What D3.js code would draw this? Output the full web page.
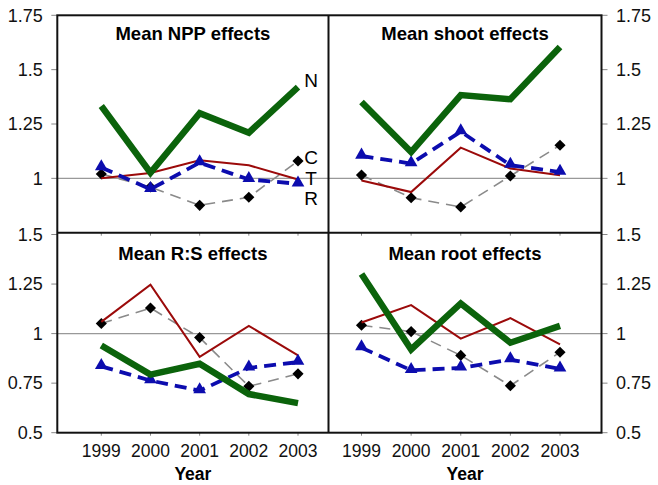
<!DOCTYPE html>
<html>
<head>
<meta charset="utf-8">
<script src="https://cdn.jsdelivr.net/npm/d3@7"></script>
<style>
  body { margin: 0; background: #fff; }
  svg { display: block; font-family: "Liberation Sans", Arial, sans-serif; }
</style>
</head>
<body>
<div id="chart"></div>
<script>
// data
const years = ["1999", "2000", "2001", "2002", "2003"];

const nppN = [1.333, 1.026, 1.300, 1.210, 1.420];
const nppC = [1.020, 0.960, 0.876, 0.913, 1.080];
const nppT = [1.000, 1.025, 1.083, 1.060, 0.995];
const nppR = [1.050, 0.950, 1.072, 0.995, 0.975];

const shootN = [1.351, 1.121, 1.383, 1.364, 1.604];
const shootC = [1.015, 0.911, 0.868, 1.011, 1.152];
const shootT = [0.990, 0.937, 1.141, 1.045, 1.014];
const shootR = [1.103, 1.068, 1.215, 1.061, 1.029];

const rsN = [0.940, 0.793, 0.848, 0.695, 0.649];
const rsC = [1.051, 1.129, 0.980, 0.734, 0.797];
const rsT = [1.059, 1.247, 0.883, 1.039, 0.890];
const rsR = [0.835, 0.763, 0.712, 0.827, 0.856];

const rootN = [1.301, 0.920, 1.152, 0.954, 1.039];
const rootC = [1.042, 1.010, 0.890, 0.737, 0.906];
const rootT = [1.056, 1.144, 0.975, 1.078, 0.946];
const rootR = [0.929, 0.815, 0.827, 0.869, 0.822];

const topTicks = [1, 1.25, 1.5, 1.75];
const bottomTicks = [0.5, 0.75, 1, 1.25, 1.5];
const seriesLabels = ["N", "C", "T", "R"];

const width = 658, height = 485;
const plotLeft = 57.3, plotMid = 328.5, plotRight = 601.5;
const plotTop = 15.3, plotMidY = 232.7, plotBottom = 432.7;

const green = "#0b630b", red = "#9b0a0a", blue = "#0c0cae", grey = "#8a8a8a";

let panels = [
  {title: "Mean NPP effects", x0: plotLeft, x1: plotMid, row: 0, side: "left",
   N: nppN, C: nppC, T: nppT, R: nppR},
  {title: "Mean shoot effects", x0: plotMid, x1: plotRight, row: 0, side: "right",
   N: shootN, C: shootC, T: shootT, R: shootR},
  {title: "Mean R:S effects", x0: plotLeft, x1: plotMid, row: 1, side: "left",
   N: rsN, C: rsC, T: rsT, R: rsR},
  {title: "Mean root effects", x0: plotMid, x1: plotRight, row: 1, side: "right",
   N: rootN, C: rootC, T: rootT, R: rootR}
];

let svg = d3.select("#chart").append("svg")
    .attr("width", width)
    .attr("height", height);

panels.forEach(function(p) {
    let y = p.row == 0
        ? d3.scaleLinear().domain([0.75, 1.75]).range([plotMidY, plotTop])
        : d3.scaleLinear().domain([0.5, 1.5]).range([plotBottom, 234.5]);
    let x = p.side == "left"
        ? d3.scalePoint().domain(years).range([p.x0 + 44, p.x1 - 30.5])
        : d3.scalePoint().domain(years).range([p.x0 + 33, p.x1 - 41.5]);
    let yBottom = p.row == 0 ? plotMidY : plotBottom;

    let g = svg.append("g");

    // reference line at 1
    g.append("line")
        .attr("x1", p.x0).attr("x2", p.x1)
        .attr("y1", y(1)).attr("y2", y(1))
        .attr("stroke", "#999").attr("stroke-width", 1.2);

    // category ticks
    g.selectAll(".xtick")
        .data(years)
        .enter()
        .append("line")
        .attr("x1", function(d) { return x(d); })
        .attr("x2", function(d) { return x(d); })
        .attr("y1", yBottom).attr("y2", yBottom + 3)
        .attr("stroke", "#888").attr("stroke-width", 1);

    let line = d3.line()
        .x(function(d, i) { return x(years[i]); })
        .y(function(d) { return y(d); });

    // C : grey dashed with diamonds
    g.append("path")
        .attr("d", line(p.C))
        .attr("fill", "none")
        .attr("stroke", grey)
        .attr("stroke-width", 1.6)
        .attr("stroke-dasharray", "11,7");
    g.selectAll(".dia")
        .data(p.C)
        .enter()
        .append("path")
        .attr("d", d3.symbol().type(d3.symbolSquare).size(62))
        .attr("transform", function(d, i) { return "translate(" + x(years[i]) + "," + y(d) + ") rotate(45)"; })
        .attr("fill", "#000");

    // T : thin red
    g.append("path")
        .attr("d", line(p.T))
        .attr("fill", "none")
        .attr("stroke", red)
        .attr("stroke-width", 2);

    // R : blue dashed with triangles
    g.append("path")
        .attr("d", line(p.R))
        .attr("fill", "none")
        .attr("stroke", blue)
        .attr("stroke-width", 3.8)
        .attr("stroke-dasharray", "12,7");
    g.selectAll(".tri")
        .data(p.R)
        .enter()
        .append("path")
        .attr("d", d3.symbol().type(d3.symbolTriangle).size(70))
        .attr("transform", function(d, i) { return "translate(" + x(years[i]) + "," + (y(d) - 1) + ")"; })
        .attr("fill", blue);

    // N : thick green
    g.append("path")
        .attr("d", line(p.N))
        .attr("fill", "none")
        .attr("stroke", green)
        .attr("stroke-width", 6.5);

    // title
    g.append("text")
        .attr("x", (p.x0 + p.x1) / 2)
        .attr("y", (p.row == 0 ? plotTop : 234.5) + 25)
        .attr("text-anchor", "middle")
        .attr("font-size", "18.5px")
        .attr("font-weight", "bold")
        .text(p.title);

    // value axis on the outer side
    let ticks = p.row == 0 ? topTicks : bottomTicks;
    let ax = p.side == "left" ? p.x0 : p.x1;
    let dir = p.side == "left" ? -1 : 1;
    g.selectAll(".ytick")
        .data(ticks)
        .enter()
        .append("line")
        .attr("x1", ax).attr("x2", ax + dir * 6)
        .attr("y1", function(d) { return y(d); })
        .attr("y2", function(d) { return y(d); })
        .attr("stroke", "#888").attr("stroke-width", 1);
    g.selectAll(".ylab")
        .data(ticks)
        .enter()
        .append("text")
        .attr("x", ax + dir * 14.5)
        .attr("y", function(d) { return y(d) + 6.3; })
        .attr("text-anchor", p.side == "left" ? "end" : "start")
        .attr("font-size", "18px")
        .attr("fill", "#111")
        .text(function(d) { return d3.format("~g")(d); });

    // year labels under the bottom row
    if (p.row == 1) {
        g.selectAll(".year")
            .data(years)
            .enter()
            .append("text")
            .attr("x", function(d) { return x(d); })
            .attr("y", plotBottom + 24.5)
            .attr("text-anchor", "middle")
            .attr("font-size", "17.5px")
            .attr("fill", "#111")
            .text(function(d) { return d; });
        g.append("text")
            .attr("x", (p.x0 + p.x1) / 2)
            .attr("y", plotBottom + 47)
            .attr("text-anchor", "middle")
            .attr("font-size", "17.5px")
            .attr("font-weight", "bold")
            .text("Year");
    }

    // series labels in the NPP panel
    if (p.title == "Mean NPP effects") {
        let labY = [80, 157, 178.5, 198.5];
        g.selectAll(".slab")
            .data(seriesLabels)
            .enter()
            .append("text")
            .attr("x", 311)
            .attr("y", function(d, i) { return labY[i] + 6.8; })
            .attr("text-anchor", "middle")
            .attr("font-size", "19px")
            .text(function(d) { return d; });
    }
});

// frame: the "1.5" on the shared edge belongs to the bottom row
svg.append("rect")
    .attr("x", plotLeft).attr("y", plotTop)
    .attr("width", plotRight - plotLeft).attr("height", plotBottom - plotTop)
    .attr("fill", "none").attr("stroke", "#111").attr("stroke-width", 2);
svg.append("line")
    .attr("x1", plotMid).attr("x2", plotMid).attr("y1", plotTop).attr("y2", plotBottom)
    .attr("stroke", "#111").attr("stroke-width", 2);
svg.append("line")
    .attr("x1", plotLeft).attr("x2", plotRight).attr("y1", plotMidY).attr("y2", plotMidY)
    .attr("stroke", "#111").attr("stroke-width", 2);
</script>
</body>
</html>
